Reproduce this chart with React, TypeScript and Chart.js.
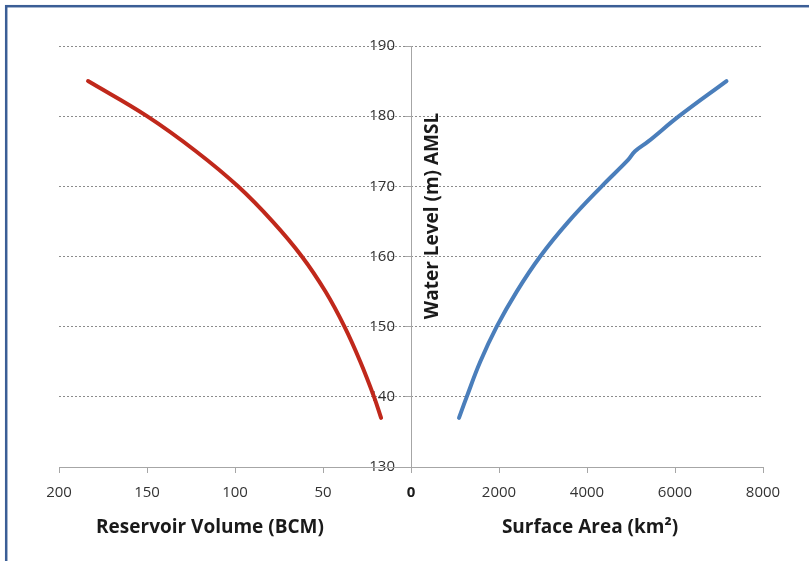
import React, { useEffect, useRef } from "react";
import { Chart, registerables } from "chart.js";

Chart.register(...registerables);

// Water level (m AMSL) vs reservoir volume (BCM)
const volumeLevels = [137, 140, 145, 150, 155, 160, 165, 170, 175, 180, 185];
const volumeBCM = [17.0, 21.0, 28.8, 37.8, 48.6, 62.0, 78.7, 98.3, 122.2, 150, 183.5];

// Water level (m AMSL) vs surface area (km²)
const areaLevels = [137, 140, 145, 150, 155, 160, 165, 170, 173.8, 175, 176.4, 180, 185];
const areaKm2 = [1091, 1266, 1573, 1948, 2402, 2936, 3584, 4334, 4939, 5091, 5393, 6091, 7170];

const volumeTicks = [200, 150, 100, 50];
const areaTicks = [0, 2000, 4000, 6000, 8000];
const levelTicks = [130, 140, 150, 160, 170, 180, 190];

const volumeTitle = "Reservoir Volume (BCM)";
const areaTitle = "Surface Area (km²)";
const levelTitle = "Water Level (m) AMSL";

const FONT = "'Open Sans', 'DejaVu Sans', sans-serif";

const decorPlugin = {
  id: "decor",
  beforeDraw(chart: any) {
    const ctx = chart.ctx;
    ctx.save();
    ctx.fillStyle = "#ffffff";
    ctx.fillRect(0, 0, chart.width, chart.height);
    ctx.strokeStyle = "#3B5E96";
    ctx.lineWidth = 2.5;
    ctx.strokeRect(6.2, 6.2, chart.width + 20, chart.height + 20);
    ctx.restore();
  },
  afterDraw(chart: any) {
    const ctx = chart.ctx;
    const area = chart.chartArea;
    const mid = (area.left + area.right) / 2;
    ctx.save();
    ctx.fillStyle = "#1a1a1a";
    ctx.font = `bold 19px ${FONT}`;
    ctx.textAlign = "center";
    ctx.textBaseline = "middle";
    ctx.fillText(volumeTitle, (area.left + mid) / 2 - 25, area.bottom + 61);
    ctx.fillText(areaTitle, (mid + area.right) / 2 + 3, area.bottom + 61);
    ctx.translate(mid + 22, area.top + 170);
    ctx.rotate(-Math.PI / 2);
    ctx.fillText(levelTitle, 0, 0);
    ctx.restore();
  },
};

export default function App() {
  const ref = useRef<HTMLCanvasElement | null>(null);

  useEffect(() => {
    if (!ref.current) return;
    const tickFont = { family: FONT, size: 15 };
    const plain = (v: any) => String(v);
    const chart = new Chart(ref.current, {
      type: "scatter",
      data: {
        datasets: [
          {
            label: "Volume",
            data: volumeLevels.map((lv, i) => ({ x: volumeBCM[i], y: lv })),
            xAxisID: "xv",
            yAxisID: "y",
            showLine: true,
            borderColor: "#C0281B",
            borderWidth: 4,
            borderCapStyle: "round",
            borderJoinStyle: "round",
            pointRadius: 0,
            tension: 0.4,
            cubicInterpolationMode: "default",
          },
          {
            label: "Area",
            data: areaLevels.map((lv, i) => ({ x: areaKm2[i], y: lv })),
            xAxisID: "xa",
            yAxisID: "y",
            showLine: true,
            borderColor: "#4A7EBB",
            borderWidth: 4,
            borderCapStyle: "round",
            borderJoinStyle: "round",
            pointRadius: 0,
            tension: 0.4,
            cubicInterpolationMode: "default",
          },
        ],
      },
      options: {
        responsive: false,
        animation: false,
        layout: { padding: { left: 59, right: 46, top: 46, bottom: 94 } },
        plugins: {
          legend: { display: false },
          tooltip: { enabled: false },
          title: { display: false },
        },
        scales: {
          y: {
            type: "linear",
            position: "center",
            min: 130,
            max: 190,
            afterBuildTicks: (scale: any) => {
              scale.ticks = levelTicks.map((v) => ({ value: v }));
            },
            ticks: { font: tickFont, color: "#333333", padding: 10, callback: plain },
            grid: {
              color: "#8c8c8c",
              lineWidth: 1,
              tickColor: "#a6a6a6",
              tickLength: 6,
              tickBorderDash: [],
            },
            border: { display: true, color: "#a6a6a6", width: 1, dash: [2, 2] },
          },
          xv: {
            type: "linear",
            position: { y: 130 } as any,
            min: -200,
            max: 200,
            reverse: true,
            afterBuildTicks: (scale: any) => {
              scale.ticks = volumeTicks.map((v) => ({ value: v }));
            },
            ticks: { font: tickFont, color: "#333333", padding: 12, maxRotation: 0, autoSkip: false, callback: plain },
            grid: { drawOnChartArea: false, drawTicks: true, tickLength: 5, tickColor: "#a6a6a6" },
            border: { display: true, color: "#a6a6a6", width: 1 },
          },
          xa: {
            type: "linear",
            position: { y: 130 } as any,
            min: -8000,
            max: 8000,
            afterBuildTicks: (scale: any) => {
              scale.ticks = areaTicks.map((v) => ({ value: v }));
            },
            ticks: {
              font: (c: any) =>
                c.tick && c.tick.value === 0
                  ? { family: FONT, size: 15, weight: "bold" }
                  : tickFont,
              color: (c: any) => (c.tick && c.tick.value === 0 ? "#1a1a1a" : "#333333"),
              padding: 12,
              maxRotation: 0,
              autoSkip: false,
              callback: plain,
            },
            grid: { drawOnChartArea: false, drawTicks: true, tickLength: 5, tickColor: "#a6a6a6" },
            border: { display: true, color: "#a6a6a6", width: 1 },
          },
        },
      } as any,
      plugins: [decorPlugin],
    });
    return () => chart.destroy();
  }, []);

  return (
    <div style={{ position: "fixed", left: 0, top: 0, width: 809, height: 561, background: "#fff" }}>
      <canvas ref={ref} width={809} height={561} style={{ display: "block" }} />
    </div>
  );
}
